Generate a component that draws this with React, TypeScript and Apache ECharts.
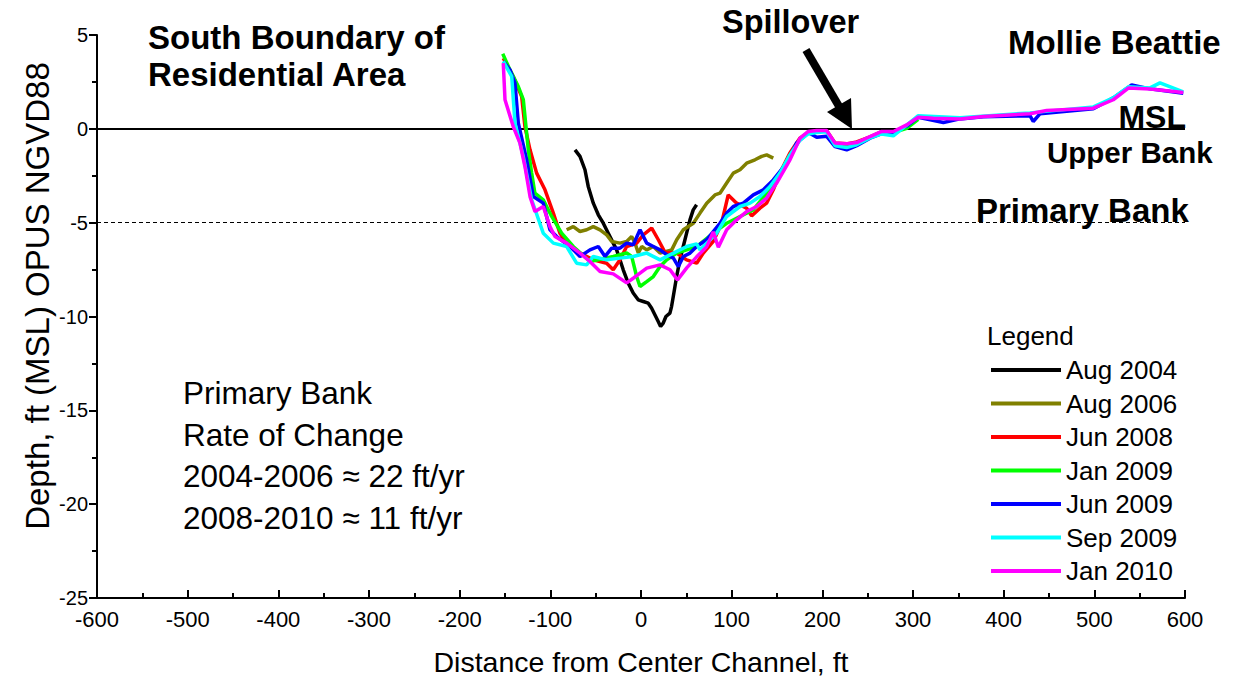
import React, { useEffect, useRef } from "react";
import * as echarts from "echarts";

const SERIES_NAMES = ["Aug 2004", "Aug 2006", "Jun 2008", "Jan 2009", "Jun 2009", "Sep 2009", "Jan 2010"];
const SERIES_COLORS = ["#000000", "#808000", "#ff0000", "#00ff00", "#0000ff", "#00ffff", "#ff00ff"];

const X_TICKS = [-600, -500, -400, -300, -200, -100, 0, 100, 200, 300, 400, 500, 600];
const Y_TICKS = [-25, -20, -15, -10, -5, 0, 5];

const AUG2004 = [[-72.8,-1.12],[-67.3,-1.47],[-61.8,-2.18],[-58.2,-3.07],[-52.6,-3.96],[-47.1,-4.58],[-41.6,-5.03],[-36.1,-5.56],[-30.6,-6.09],[-26.9,-6.45],[-23.2,-6.98],[-19.6,-7.51],[-14.1,-8.22],[-8.6,-8.75],[-3.1,-9.11],[2.5,-9.2],[8.0,-9.29],[11.6,-9.55],[15.3,-9.91],[19.0,-10.27],[21.6,-10.53],[24.5,-10.35],[27.5,-10.0],[31.9,-9.82],[33.7,-9.47],[35.6,-8.93],[39.3,-7.87],[42.9,-6.98],[46.6,-6.27],[50.3,-5.56],[54.0,-4.85],[57.6,-4.32],[61.3,-4.05]];

const AUG2006 = [[-82.0,-5.38],[-74.7,-5.21],[-67.3,-5.47],[-59.9,-5.38],[-52.6,-5.21],[-45.2,-5.38],[-37.8,-5.65],[-32.3,-6.0],[-23.2,-6.09],[-15.8,-6.0],[-10.3,-5.74],[-6.6,-6.09],[-3.0,-6.62],[0.8,-6.27],[6.3,-6.45],[13.6,-6.27],[21.0,-6.62],[33.9,-6.45],[39.4,-5.91],[46.7,-5.38],[57.7,-5.03],[65.1,-4.49],[72.5,-3.96],[81.6,-3.52],[87.1,-3.43],[94.5,-2.89],[101.8,-2.36],[109.2,-2.18],[116.5,-1.83],[125.7,-1.65],[133.1,-1.47],[138.6,-1.39],[145.9,-1.56]];

const JUN2008 = [[-151.9,3.77],[-140.9,2.79],[-131.6,1.72],[-128.0,0.12],[-122.4,-1.12],[-115.1,-2.36],[-105.9,-3.25],[-96.7,-4.49],[-89.4,-5.56],[-82.0,-6.09],[-67.3,-6.62],[-52.6,-6.98],[-37.9,-7.16],[-30.6,-7.51],[-23.2,-6.98],[-15.8,-6.27],[-4.8,-6.09],[2.5,-5.65],[11.8,-5.29],[19.1,-5.91],[26.4,-6.58],[39.3,-6.62],[50.3,-6.98],[61.4,-7.16],[68.7,-6.62],[79.7,-6.0],[88.9,-5.03],[96.2,-3.52],[105.5,-3.96],[116.5,-4.23],[122.0,-4.64],[131.2,-4.23],[138.5,-3.96],[145.9,-3.25],[153.2,-2.36],[164.2,-1.29],[175.2,-0.5],[184.5,-0.2],[193.8,-0.1],[204.8,-0.1],[214.0,-0.75],[226.9,-0.8],[237.9,-0.7],[252.6,-0.43],[265.5,-0.15],[278.3,-0.15]];

const JAN2009 = [[-152.5,4.0],[-144.5,3.14],[-135.3,2.25],[-129.8,1.55],[-124.3,-1.12],[-120.6,-2.36],[-117.0,-3.43],[-107.8,-3.78],[-98.5,-4.67],[-87.5,-5.56],[-74.7,-6.27],[-56.3,-7.07],[-30.6,-6.8],[-15.8,-6.62],[-10.3,-6.8],[-4.8,-7.87],[-1.1,-8.4],[6.3,-8.14],[13.6,-7.87],[21.0,-7.34],[28.4,-6.98],[39.4,-6.62],[50.4,-6.45],[61.4,-6.27],[79.7,-5.56],[94.5,-5.03],[109.2,-4.67],[123.8,-4.32],[138.6,-3.43],[153.2,-2.36],[167.9,-1.12],[175.4,-0.55],[184.5,-0.2],[193.8,-0.12],[204.8,-0.12],[214.0,-0.8],[226.9,-0.85],[237.9,-0.75],[252.6,-0.46],[265.5,-0.2],[278.3,-0.2],[293.0,0.03],[305.8,0.5]];

const JUN2009 = [[-151.9,3.59],[-144.5,3.14],[-139.0,2.44],[-135.3,0.3],[-126.1,-1.65],[-118.8,-3.61],[-107.8,-3.96],[-100.4,-5.38],[-93.0,-5.74],[-78.3,-6.27],[-67.3,-6.8],[-56.3,-6.45],[-47.1,-6.27],[-39.7,-6.8],[-32.3,-6.36],[-23.2,-6.36],[-15.8,-6.09],[-8.5,-6.18],[-1.1,-5.38],[6.3,-6.09],[13.6,-6.27],[21.0,-6.45],[28.4,-6.71],[35.7,-6.89],[41.2,-7.34],[46.7,-6.8],[54.1,-6.62],[61.4,-6.27],[72.4,-5.91],[87.1,-5.03],[94.5,-4.49],[101.8,-4.14],[112.8,-3.96],[123.9,-3.52],[134.9,-3.25],[145.9,-2.72],[160.6,-1.83],[171.6,-0.76],[184.5,-0.2],[193.8,-0.45],[204.8,-0.4],[214.0,-0.95],[226.9,-1.12],[237.9,-0.9],[252.6,-0.5],[265.5,-0.25],[278.3,-0.2],[293.0,0.15],[305.8,0.62],[333.5,0.34],[351.8,0.53],[377.5,0.64],[429.0,0.7],[432.6,0.39],[440.0,0.8],[498.9,1.07],[520.9,1.65],[541.2,2.34],[561.4,2.13],[598.1,1.9]];

const SEP2009 = [[-151.9,3.59],[-142.6,2.79],[-139.0,0.3],[-129.8,-1.48],[-120.6,-3.78],[-107.8,-5.56],[-96.7,-6.09],[-82.0,-6.27],[-71.0,-7.16],[-60.0,-7.25],[-52.6,-6.8],[-37.9,-6.98],[-23.2,-6.89],[-8.5,-6.8],[6.3,-6.62],[21.0,-6.98],[35.7,-6.62],[50.4,-6.27],[61.4,-6.13],[65.1,-6.45],[72.5,-6.09],[83.5,-5.56],[94.5,-4.67],[109.2,-4.14],[120.3,-3.96],[131.2,-3.61],[142.3,-3.07],[153.2,-2.36],[164.2,-1.39],[175.4,-0.6],[184.5,-0.27],[193.8,-0.2],[204.8,-0.15],[214.0,-0.9],[226.9,-1.0],[237.9,-0.85],[252.6,-0.48],[265.5,-0.27],[278.3,-0.37],[293.0,0.2],[305.8,0.7],[351.8,0.59],[429.0,0.85],[498.9,1.17],[520.9,1.65],[537.5,2.24],[561.4,2.18],[572.4,2.45],[598.1,1.97]];

const JAN2010 = [[-151.9,3.5],[-150.0,1.55],[-140.9,0.12],[-133.5,-0.76],[-128.0,-2.01],[-122.4,-3.61],[-116.9,-4.41],[-107.8,-4.14],[-100.4,-5.21],[-94.9,-5.74],[-82.0,-6.09],[-67.3,-6.62],[-56.3,-7.07],[-45.2,-7.6],[-30.6,-7.73],[-15.8,-8.21],[-8.5,-7.96],[6.3,-7.42],[21.0,-7.25],[32.0,-7.51],[40.3,-8.05],[50.4,-7.41],[61.4,-6.82],[72.4,-6.29],[79.7,-5.49],[85.3,-6.31],[94.5,-5.38],[105.5,-4.85],[116.5,-4.41],[127.6,-4.14],[138.6,-3.69],[149.6,-2.89],[164.3,-1.65],[175.4,-0.5],[184.5,-0.14],[193.8,-0.09],[204.8,-0.09],[214.0,-0.76],[226.9,-0.8],[237.9,-0.73],[252.6,-0.41],[265.5,-0.14],[278.3,-0.14],[293.0,0.21],[305.8,0.62],[322.4,0.57],[351.8,0.53],[377.5,0.66],[429.0,0.8],[447.4,0.98],[498.9,1.1],[520.9,1.55],[537.5,2.17],[561.4,2.12],[598.1,1.93]];

const SERIES_DATA = [AUG2004, AUG2006, JUN2008, JAN2009, JUN2009, SEP2009, JAN2010];

const MSL_LEVEL = 0;
const PRIMARY_BANK_LEVEL = -5;

const FONT = "'Liberation Sans', Arial, sans-serif";

export default function App() {
  const ref = useRef<HTMLDivElement>(null);
  useEffect(() => {
    if (!ref.current) return;
    const chart = echarts.init(ref.current, null, { renderer: "svg" });
    const series: any[] = SERIES_NAMES.map((name, i) => ({
      name,
      type: "line",
      data: SERIES_DATA[i],
      showSymbol: false,
      symbol: "none",
      lineStyle: { color: SERIES_COLORS[i], width: 3.5 },
      itemStyle: { color: SERIES_COLORS[i] },
      z: 3 + i,
    }));
    series[0].markLine = {
      silent: true,
      symbol: "none",
      label: { show: false },
      data: [
        { yAxis: MSL_LEVEL, lineStyle: { color: "#000", width: 2, type: "solid" } },
        { yAxis: PRIMARY_BANK_LEVEL, lineStyle: { color: "#000", width: 1, type: [4, 3] } },
      ],
    };
    const option: any = {
      animation: false,
      backgroundColor: "#ffffff",
      grid: { left: 97, right: 49, top: 35, bottom: 83 },
      xAxis: {
        type: "value",
        min: X_TICKS[0],
        max: X_TICKS[X_TICKS.length - 1],
        interval: 100,
        name: "Distance from Center Channel, ft",
        nameLocation: "middle",
        nameGap: 49,
        nameTextStyle: { fontFamily: FONT, fontSize: 28.5, color: "#000" },
        axisLine: { show: true, onZero: false, lineStyle: { color: "#000", width: 2 } },
        axisTick: { show: true, inside: true, length: 8, lineStyle: { color: "#000", width: 2 } },
        minorTick: { show: true, splitNumber: 2, length: 5, lineStyle: { color: "#000", width: 2 } },
        axisLabel: { fontFamily: FONT, fontSize: 22, color: "#000", margin: 10 },
        splitLine: { show: false },
      },
      yAxis: {
        type: "value",
        min: Y_TICKS[0],
        max: Y_TICKS[Y_TICKS.length - 1],
        interval: 5,
        axisLine: { show: true, onZero: false, lineStyle: { color: "#000", width: 2 } },
        axisTick: { show: true, inside: false, length: 8, lineStyle: { color: "#000", width: 2 } },
        minorTick: { show: true, splitNumber: 2, length: 5, lineStyle: { color: "#000", width: 2 } },
        axisLabel: { fontFamily: FONT, fontSize: 20, color: "#000", margin: 9 },
        splitLine: { show: false },
      },
      legend: {
        orient: "vertical",
        left: 986,
        top: 352,
        itemWidth: 70,
        itemHeight: 4,
        itemGap: 7.5,
        icon: "rect",
        data: SERIES_NAMES,
        textStyle: { fontFamily: FONT, fontSize: 26, color: "#000", lineHeight: 24 },
      },
      graphic: [
        {
          type: "text",
          x: 37,
          y: 296,
          rotation: Math.PI / 2,
          style: { text: "Depth, ft (MSL) OPUS NGVD88", font: `33px ${FONT}`, fill: "#000", align: "center", verticalAlign: "middle" },
        },
        {
          type: "text",
          x: 148,
          y: 19,
          style: { text: "South Boundary of\nResidential Area", font: `bold 33px ${FONT}`, lineHeight: 37, fill: "#000", align: "left", verticalAlign: "top" },
        },
        {
          type: "text",
          x: 722,
          y: 22,
          style: { text: "Spillover", font: `bold 32.5px ${FONT}`, fill: "#000", align: "left", verticalAlign: "middle" },
        },
        {
          type: "text",
          x: 1008,
          y: 42,
          style: { text: "Mollie Beattie", font: `bold 33px ${FONT}`, fill: "#000", align: "left", verticalAlign: "middle" },
        },
        {
          type: "text",
          x: 1186,
          y: 117,
          style: { text: "MSL", font: `bold 32px ${FONT}`, fill: "#000", align: "right", verticalAlign: "middle" },
        },
        {
          type: "text",
          x: 1047,
          y: 152,
          style: { text: "Upper Bank", font: `bold 29.5px ${FONT}`, fill: "#000", align: "left", verticalAlign: "middle" },
        },
        {
          type: "text",
          x: 976,
          y: 210,
          style: { text: "Primary Bank", font: `bold 33px ${FONT}`, fill: "#000", align: "left", verticalAlign: "middle" },
        },
        {
          type: "text",
          x: 183,
          y: 372,
          style: { text: "Primary Bank\nRate of Change\n2004-2006 ≈ 22 ft/yr\n2008-2010 ≈ 11 ft/yr", font: `31.5px ${FONT}`, lineHeight: 41.7, fill: "#000", align: "left", verticalAlign: "top" },
        },
        {
          type: "text",
          x: 987,
          y: 336,
          style: { text: "Legend", font: `26px ${FONT}`, fill: "#000", align: "left", verticalAlign: "middle" },
        },
        {
          type: "line",
          shape: { x1: 806, y1: 50, x2: 840, y2: 108 },
          style: { stroke: "#000", lineWidth: 8 },
        },
        {
          type: "polygon",
          shape: { points: [[852, 129], [827, 112], [851, 98]] },
          style: { fill: "#000" },
        },
      ],
      series,
    };
    chart.setOption(option);
    return () => chart.dispose();
  }, []);
  return <div ref={ref} style={{ position: "fixed", left: 0, top: 0, width: 1234, height: 681 }} />;
}
